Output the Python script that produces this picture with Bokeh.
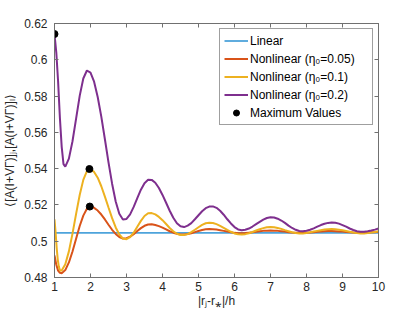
from bokeh.plotting import figure
from bokeh.models import LinearAxis, FixedTicker, Range1d, Legend, LegendItem, CustomJSTickFormatter
from bokeh.embed import file_html
from bokeh.resources import INLINE

x_lin = [1.0, 10.0]
y_lin = [0.5046, 0.5046]

x_o = [1.0, 1.05, 1.1, 1.15, 1.2, 1.3, 1.4, 1.5, 1.6, 1.7, 1.8, 1.9, 2.0,
       2.1, 2.2, 2.3, 2.4, 2.5, 2.6, 2.7, 2.8, 2.9, 3.0, 3.1, 3.2, 3.3, 3.4, 3.5, 3.6,
       3.7, 3.8, 3.9, 4.0, 4.1, 4.2, 4.3, 4.4, 4.5, 4.6, 4.7, 4.8, 4.9, 5.0, 5.1, 5.2, 5.3,
       5.4, 5.5, 5.6, 5.7, 5.8, 5.9, 6.0, 6.1, 6.2, 6.3, 6.4, 6.5, 6.6, 6.7, 6.8, 6.9, 7.0,
       7.1, 7.2, 7.3, 7.4, 7.5, 7.6, 7.7, 7.8, 7.9, 8.0, 8.1, 8.2, 8.3, 8.4, 8.5, 8.6, 8.7,
       8.8, 8.9, 9.0, 9.1, 9.2, 9.3, 9.4, 9.5, 9.6, 9.7, 9.8, 9.9, 10.0]
y_o = [0.4922, 0.4870, 0.4838, 0.4826, 0.4824, 0.4841, 0.4883, 0.4943, 0.5014, 0.5084, 0.5141, 0.5179, 0.5190,
       0.5184, 0.5169, 0.5147, 0.5120, 0.5091, 0.5063, 0.5040, 0.5023, 0.5015, 0.5017, 0.5025, 0.5039, 0.5056, 0.5072, 0.5085, 0.5092,
       0.5093, 0.5089, 0.5083, 0.5075, 0.5065, 0.5055, 0.5047, 0.5041, 0.5037, 0.5037, 0.5040, 0.5044, 0.5050, 0.5056, 0.5062, 0.5066, 0.5067,
       0.5066, 0.5064, 0.5061, 0.5057, 0.5053, 0.5049, 0.5046, 0.5044, 0.5044, 0.5045, 0.5047, 0.5049, 0.5052, 0.5055, 0.5057, 0.5058, 0.5059,
       0.5058, 0.5057, 0.5055, 0.5053, 0.5050, 0.5048, 0.5047, 0.5046, 0.5046, 0.5047, 0.5048, 0.5050, 0.5052, 0.5054, 0.5055, 0.5056, 0.5056,
       0.5055, 0.5054, 0.5053, 0.5051, 0.5050, 0.5048, 0.5047, 0.5047, 0.5047, 0.5048, 0.5049, 0.5050, 0.5052]

x_y = [1.0, 1.03, 1.06, 1.09, 1.12, 1.15, 1.17, 1.2, 1.3, 1.4, 1.5, 1.6, 1.7, 1.8, 1.9, 2.0,
       2.1, 2.2, 2.3, 2.4, 2.5, 2.6, 2.7, 2.8, 2.9, 3.0, 3.1, 3.2, 3.3, 3.4, 3.5, 3.6,
       3.7, 3.8, 3.9, 4.0, 4.1, 4.2, 4.3, 4.4, 4.5, 4.6, 4.7, 4.8, 4.9, 5.0, 5.1, 5.2, 5.3,
       5.4, 5.5, 5.6, 5.7, 5.8, 5.9, 6.0, 6.1, 6.2, 6.3, 6.4, 6.5, 6.6, 6.7, 6.8, 6.9, 7.0,
       7.1, 7.2, 7.3, 7.4, 7.5, 7.6, 7.7, 7.8, 7.9, 8.0, 8.1, 8.2, 8.3, 8.4, 8.5, 8.6, 8.7,
       8.8, 8.9, 9.0, 9.1, 9.2, 9.3, 9.4, 9.5, 9.6, 9.7, 9.8, 9.9, 10.0]
y_y = [0.5121, 0.5050, 0.4965, 0.4900, 0.4860, 0.4841, 0.4837, 0.4839, 0.4873, 0.4944, 0.5042, 0.5151, 0.5255, 0.5338, 0.5387, 0.5397,
       0.5382, 0.5350, 0.5303, 0.5246, 0.5186, 0.5127, 0.5076, 0.5037, 0.5015, 0.5011, 0.5023, 0.5047, 0.5080, 0.5112, 0.5139, 0.5154,
       0.5155, 0.5148, 0.5134, 0.5116, 0.5095, 0.5073, 0.5055, 0.5041, 0.5034, 0.5034, 0.5039, 0.5050, 0.5063, 0.5077, 0.5090, 0.5099, 0.5102,
       0.5100, 0.5094, 0.5085, 0.5074, 0.5062, 0.5052, 0.5043, 0.5038, 0.5037, 0.5039, 0.5044, 0.5051, 0.5059, 0.5066, 0.5072, 0.5077, 0.5078,
       0.5077, 0.5073, 0.5068, 0.5061, 0.5055, 0.5049, 0.5045, 0.5043, 0.5043, 0.5045, 0.5049, 0.5053, 0.5057, 0.5061, 0.5065, 0.5066, 0.5067,
       0.5066, 0.5063, 0.5060, 0.5056, 0.5052, 0.5048, 0.5045, 0.5043, 0.5043, 0.5045, 0.5048, 0.5051, 0.5055]

x_p = [1.0, 1.05, 1.1, 1.15, 1.2, 1.25, 1.3, 1.4, 1.5, 1.6, 1.7, 1.8, 1.9, 2.0,
       2.1, 2.2, 2.3, 2.4, 2.5, 2.6, 2.7, 2.8, 2.9, 3.0, 3.1, 3.2, 3.3, 3.4, 3.5, 3.6,
       3.7, 3.8, 3.9, 4.0, 4.1, 4.2, 4.3, 4.4, 4.5, 4.6, 4.7, 4.8, 4.9, 5.0, 5.1, 5.2, 5.3,
       5.4, 5.5, 5.6, 5.7, 5.8, 5.9, 6.0, 6.1, 6.2, 6.3, 6.4, 6.5, 6.6, 6.7, 6.8, 6.9, 7.0,
       7.1, 7.2, 7.3, 7.4, 7.5, 7.6, 7.7, 7.8, 7.9, 8.0, 8.1, 8.2, 8.3, 8.4, 8.5, 8.6, 8.7,
       8.8, 8.9, 9.0, 9.1, 9.2, 9.3, 9.4, 9.5, 9.6, 9.7, 9.8, 9.9, 10.0]
y_p = [0.6142, 0.6040, 0.5880, 0.5680, 0.5520, 0.5425, 0.5411, 0.5455, 0.5551, 0.5676, 0.5801, 0.5897, 0.5941, 0.5929,
       0.5879, 0.5795, 0.5687, 0.5562, 0.5435, 0.5317, 0.5219, 0.5151, 0.5120, 0.5123, 0.5148, 0.5189, 0.5237, 0.5284, 0.5320, 0.5339,
       0.5338, 0.5322, 0.5293, 0.5255, 0.5212, 0.5168, 0.5129, 0.5099, 0.5082, 0.5078, 0.5086, 0.5100, 0.5121, 0.5143, 0.5165, 0.5182, 0.5191,
       0.5192, 0.5184, 0.5168, 0.5146, 0.5121, 0.5098, 0.5078, 0.5065, 0.5060, 0.5063, 0.5070, 0.5081, 0.5094, 0.5107, 0.5119, 0.5128, 0.5132,
       0.5131, 0.5124, 0.5114, 0.5101, 0.5086, 0.5073, 0.5063, 0.5056, 0.5055, 0.5058, 0.5063, 0.5071, 0.5080, 0.5089, 0.5096, 0.5101, 0.5103,
       0.5102, 0.5097, 0.5089, 0.5080, 0.5070, 0.5062, 0.5055, 0.5052, 0.5052, 0.5055, 0.5059, 0.5064, 0.5070]

x_max = [1.0, 1.97, 1.98]
y_max = [0.6142, 0.5398, 0.5191]

x_ticks = [1, 2, 3, 4, 5, 6, 7, 8, 9, 10]
y_ticks = [0.48, 0.50, 0.52, 0.54, 0.56, 0.58, 0.60, 0.62]
y_tick_labels = ["0.48", "0.5", "0.52", "0.54", "0.56", "0.58", "0.6", "0.62"]

labels = ["Linear", "Nonlinear (\u03b7\u2080=0.05)", "Nonlinear (\u03b7\u2080=0.1)",
          "Nonlinear (\u03b7\u2080=0.2)", "Maximum Values"]
colors = ["#4DA3DB", "#D95319", "#EDB120", "#7E2F8E"]

FONT = "Liberation Sans"
TXT = "#262626"
AX = "#707070"

p = figure(width=408, height=310, output_backend="svg", toolbar_location=None,
           x_range=Range1d(1, 10), y_range=Range1d(0.48, 0.62),
           min_border_left=54, min_border_right=30, min_border_top=23, min_border_bottom=28)
p.grid.visible = False
p.outline_line_color = AX
p.outline_line_width = 1

r_lin = p.line(x_lin, y_lin, line_color=colors[0], line_width=1.8)
r_o = p.line(x_o, y_o, line_color=colors[1], line_width=2)
r_y = p.line(x_y, y_y, line_color=colors[2], line_width=2)
r_p = p.line(x_p, y_p, line_color=colors[3], line_width=2)
r_m = p.scatter(x_max, y_max, size=7, fill_color="black", line_color="black")

def style(ax):
    ax.axis_line_color = AX
    ax.major_tick_line_color = AX
    ax.major_tick_in = 4
    ax.major_tick_out = 0
    ax.minor_tick_line_color = None
    ax.major_label_text_font = FONT
    ax.major_label_text_font_size = "12px"
    ax.major_label_text_color = TXT
    ax.axis_label_text_font = FONT
    ax.axis_label_text_font_size = "12px"
    ax.axis_label_text_font_style = "normal"
    ax.axis_label_text_color = TXT

xa = p.xaxis[0]
ya = p.yaxis[0]
xa.ticker = FixedTicker(ticks=x_ticks)
ya.ticker = FixedTicker(ticks=y_ticks)
ya.major_label_overrides = {t: l for t, l in zip(y_ticks, y_tick_labels)}
style(xa)
style(ya)
xa.axis_label = "|r\u2c7c-r\u204e|/h"
ya.axis_label = "\u27e8[A(I+V\u0393)]\u2c7c,[A(I+V\u0393)]\u2097\u27e9"
xa.major_label_standoff = 4
xa.axis_label_standoff = 0
ya.major_label_standoff = 7
ya.axis_label_standoff = 4

blank = CustomJSTickFormatter(code="return ''")
top = LinearAxis(ticker=FixedTicker(ticks=x_ticks), formatter=blank)
right = LinearAxis(ticker=FixedTicker(ticks=y_ticks), formatter=blank)
style(top)
style(right)
top.major_label_standoff = 0
right.major_label_standoff = 0
p.add_layout(top, "above")
p.add_layout(right, "right")

legend = Legend(items=[
    LegendItem(label=labels[0], renderers=[r_lin]),
    LegendItem(label=labels[1], renderers=[r_o]),
    LegendItem(label=labels[2], renderers=[r_y]),
    LegendItem(label=labels[3], renderers=[r_p]),
    LegendItem(label=labels[4], renderers=[r_m]),
], location="top_right")
legend.margin = 5
legend.padding = 4
legend.spacing = 3
legend.glyph_width = 24
legend.glyph_height = 15
legend.label_height = 15
legend.label_width = 118
legend.label_standoff = 2
legend.label_text_font = FONT
legend.label_text_font_size = "12px"
legend.label_text_color = "black"
legend.border_line_color = "#404040"
legend.border_line_width = 1
legend.background_fill_alpha = 1
p.add_layout(legend)

open("out.html", "w").write(file_html(p, INLINE))
